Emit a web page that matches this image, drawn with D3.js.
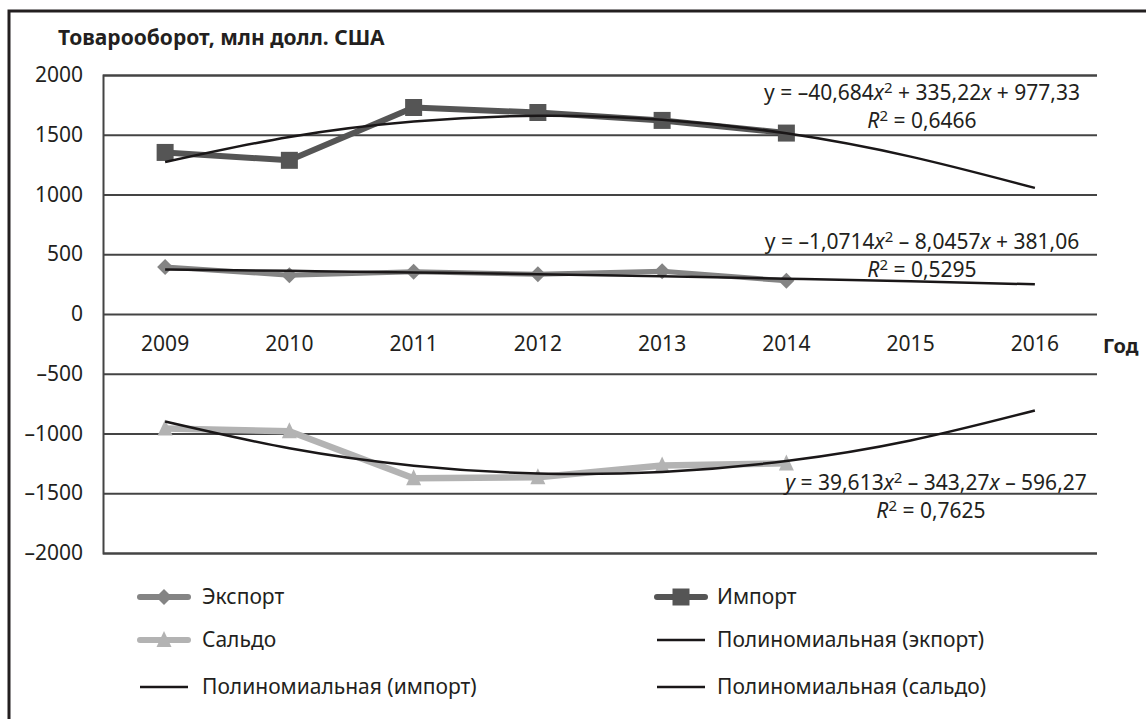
<!DOCTYPE html>
<html>
<head>
<meta charset="utf-8">
<script src="https://cdn.jsdelivr.net/npm/d3@7"></script>
<style>
  body { margin: 0; background: #fff; }
  svg text { font-family: "Noto Sans", "Open Sans", sans-serif; fill: #231f20; }
</style>
</head>
<body>
<svg id="chart" width="1146" height="719"></svg>
<script>
// years on the x axis
const years = ["2009", "2010", "2011", "2012", "2013", "2014", "2015", "2016"];
const dataYears = years.slice(0, 6);

// series
const importVals = [1352, 1286, 1728, 1686, 1620, 1514];
const exportVals = [394, 325, 353, 333, 358, 278];
const saldoVals = [-958, -981, -1375, -1367, -1267, -1250];

// trend curves (polynomial, degree 2), read at each year
const importTrend = [1272, 1482, 1611, 1659, 1626, 1512, 1317, 1055];
const exportTrend = [372, 361, 348, 333, 315, 296, 275, 248];
const saldoTrend = [-900, -1124, -1269, -1335, -1322, -1230, -1058, -807];

const yTicks = [-2000, -1500, -1000, -500, 0, 500, 1000, 1500, 2000];

const svg = d3.select("#chart");

// outer frame (only left and top visible)
svg.append("rect")
    .attr("x", 9).attr("y", 11)
    .attr("width", 1160).attr("height", 730)
    .attr("fill", "none")
    .attr("stroke", "#231f20")
    .attr("stroke-width", 3);

const plotLeft = 103, plotRight = 1097, plotTop = 75, plotBottom = 553;

const x = d3.scaleBand().domain(years).range([plotLeft, plotRight]).padding(0);
const cx = d => x(d) + x.bandwidth() / 2;
const y = d3.scaleLinear().domain([-2000, 2000]).range([plotBottom, plotTop]);

// title
svg.append("text")
    .attr("x", 58).attr("y", 45)
    .attr("font-size", 21).attr("font-weight", "bold")
    .text("Товарооборот, млн долл. США");

// y axis + gridlines
const yAxis = svg.append("g")
    .attr("transform", "translate(" + plotLeft + ",0)")
    .call(d3.axisLeft(y)
        .tickValues(yTicks)
        .tickSize(-(plotRight - plotLeft))
        .tickPadding(20)
        .tickFormat(d => String(d).replace("-", "–")));
yAxis.selectAll(".tick line").attr("stroke", "#444").attr("stroke-width", 2);
yAxis.select(".domain").attr("stroke", "#444").attr("stroke-width", 2);
yAxis.selectAll("text").attr("font-size", 21).attr("fill", "#231f20");

// x axis labels below zero line
const xAxis = svg.append("g")
    .attr("transform", "translate(0," + y(0) + ")")
    .call(d3.axisBottom(x).tickSize(0).tickPadding(22));
xAxis.select(".domain").remove();
xAxis.selectAll("text").attr("font-size", 21).attr("fill", "#231f20");

svg.append("text")
    .attr("x", 1103).attr("y", 353)
    .attr("font-size", 20).attr("font-weight", "bold")
    .text("Год");

const line = d3.line().x(d => cx(d[0])).y(d => y(d[1]));
const curve = d3.line().x(d => cx(d[0])).y(d => y(d[1])).curve(d3.curveNatural);

function drawSeries(vals, color, width, marker) {
    const pts = vals.map((v, i) => [dataYears[i], v]);
    svg.append("path")
        .datum(pts)
        .attr("d", line)
        .attr("fill", "none")
        .attr("stroke", color)
        .attr("stroke-width", width)
        .attr("stroke-linejoin", "round");
    svg.append("g").selectAll("path")
        .data(pts)
        .join("path")
        .attr("transform", d => "translate(" + cx(d[0]) + "," + y(d[1]) + ")")
        .attr("d", marker)
        .attr("fill", color);
}

const square = "M-8.5,-8.5H8.5V8.5H-8.5Z";
const diamond = "M0,-8L8,0L0,8L-8,0Z";
const triangle = "M0,-9L7.5,7L-7.5,7Z";

drawSeries(saldoVals, "#b3b3b3", 6.5, triangle);
drawSeries(exportVals, "#848484", 5, diamond);
drawSeries(importVals, "#555555", 6, square);

function drawTrend(vals) {
    svg.append("path")
        .datum(vals.map((v, i) => [years[i], v]))
        .attr("d", curve)
        .attr("fill", "none")
        .attr("stroke", "#1a1718")
        .attr("stroke-width", 2.5);
}
drawTrend(importTrend);
drawTrend(exportTrend);
drawTrend(saldoTrend);

// trend equations
function equation(cxPos, yPos, parts) {
    const t = svg.append("text")
        .attr("x", cxPos).attr("y", yPos)
        .attr("text-anchor", "middle")
        .attr("font-size", 21);
    parts.forEach(p => {
        const s = t.append("tspan").text(p[0]);
        if (p[1] === "i") s.attr("font-style", "italic");
        if (p[1] === "sup") s.attr("font-size", 15).attr("dy", -7);
        if (p[2] === "down") s.attr("dy", 7);
    });
}

equation(922, 100, [["y = –40,684"], ["x", "i"], ["2", "sup"], [" + 335,22", "", "down"], ["x", "i"], [" + 977,33"]]);
equation(922, 128, [["R", "i"], ["2", "sup"], [" = 0,6466", "", "down"]]);
equation(922, 249, [["y = –1,0714"], ["x", "i"], ["2", "sup"], [" – 8,0457", "", "down"], ["x", "i"], [" + 381,06"]]);
equation(922, 277, [["R", "i"], ["2", "sup"], [" = 0,5295", "", "down"]]);
equation(936, 490, [["y", "i"], [" = 39,613"], ["x", "i"], ["2", "sup"], [" – 343,27", "", "down"], ["x", "i"], [" – 596,27"]]);
equation(931, 518, [["R", "i"], ["2", "sup"], [" = 0,7625", "", "down"]]);

// legend
const legendItems = [
    { label: "Экспорт", col: 0, row: 0, color: "#848484", width: 6, marker: diamond },
    { label: "Импорт", col: 1, row: 0, color: "#555555", width: 6, marker: square },
    { label: "Сальдо", col: 0, row: 1, color: "#b3b3b3", width: 6, marker: triangle },
    { label: "Полиномиальная (экпорт)", col: 1, row: 1, color: "#1a1718", width: 2.5 },
    { label: "Полиномиальная (импорт)", col: 0, row: 2, color: "#1a1718", width: 2.5 },
    { label: "Полиномиальная (сальдо)", col: 1, row: 2, color: "#1a1718", width: 2.5 }
];
const colX = [140, 657];
const rowY = [597, 640, 687];

const lg = svg.append("g").selectAll("g")
    .data(legendItems)
    .join("g")
    .attr("transform", d => "translate(" + colX[d.col] + "," + rowY[d.row] + ")");

lg.append("line")
    .attr("x1", 0).attr("x2", 48)
    .attr("stroke", d => d.color)
    .attr("stroke-width", d => d.width)
    .attr("stroke-linecap", d => d.marker ? "round" : "butt");
lg.filter(d => d.marker)
    .append("path")
    .attr("transform", "translate(24,0)")
    .attr("d", d => d.marker)
    .attr("fill", d => d.color);
lg.append("text")
    .attr("x", d => d.col === 0 ? 62 : 60)
    .attr("dy", "0.35em")
    .attr("font-size", 21)
    .text(d => d.label);
</script>
</body>
</html>
